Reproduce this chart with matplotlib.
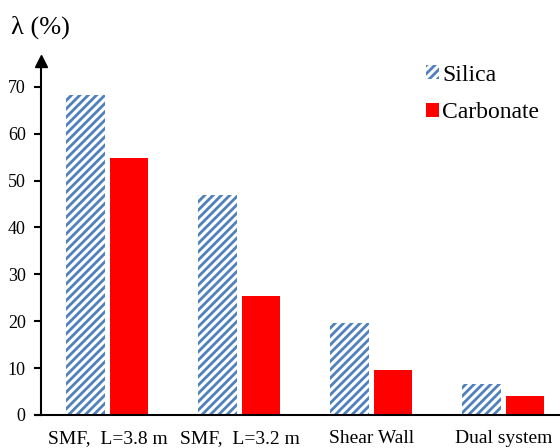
import numpy as np
import matplotlib.pyplot as plt
from matplotlib.patches import Patch

plt.rcParams['font.family'] = ['Liberation Serif', 'DejaVu Serif']
plt.rcParams['hatch.linewidth'] = 2.0

systems = ['SMF,  L=3.8 m', 'SMF,  L=3.2 m', 'Shear Wall', 'Dual system']
silica = [68.3, 47.0, 19.6, 6.6]
carbonate = [54.8, 25.4, 9.6, 4.0]
yticks = [0, 10, 20, 30, 40, 50, 60, 70]

blue = '#4f81bd'
red = '#ff0000'

fig = plt.figure(figsize=(5.6, 4.48), dpi=100)
ax = fig.add_axes([0.0732, 0.0737, 0.9268, 0.79])

x = np.arange(len(systems))
w = 0.29
ax.bar(x - 0.167, silica, w, facecolor='white', edgecolor=blue,
       hatch='////', linewidth=0)
ax.bar(x + 0.163, carbonate, w, color=red, linewidth=0)

ax.set_xlim(-0.504, 3.428)
ax.set_ylim(0, 75.5)
ax.set_yticks(yticks)
ax.set_xticks(x)
ax.set_xticklabels(systems, fontsize=14)
ax.tick_params(axis='x', length=0, pad=11)
ax.tick_params(axis='y', direction='out', length=5, width=1.5, labelsize=13, pad=6)

for s in ['top', 'right', 'bottom']:
    ax.spines[s].set_visible(False)
ax.spines['left'].set_linewidth(1.5)
ax.plot([-0.012, 1], [0, 0], transform=ax.transAxes, color='black', lw=1.5, clip_on=False)
ax.plot([0], [1], marker='^', markersize=9, color='black', transform=ax.transAxes, clip_on=False)

fig.text(0.02, 0.94, 'λ (%)', fontsize=19, va='center', ha='left')

handles = [Patch(facecolor='white', edgecolor=blue, hatch='////', linewidth=0),
           Patch(facecolor=red, linewidth=0)]
ax.legend(handles, ['Silica', 'Carbonate'], loc='upper left', bbox_to_anchor=(0.7, 1.05),
          frameon=False, fontsize=17, handlelength=0.55, handleheight=0.55,
          handletextpad=0.15, labelspacing=0.7)

fig.savefig('out.png', dpi=100)
